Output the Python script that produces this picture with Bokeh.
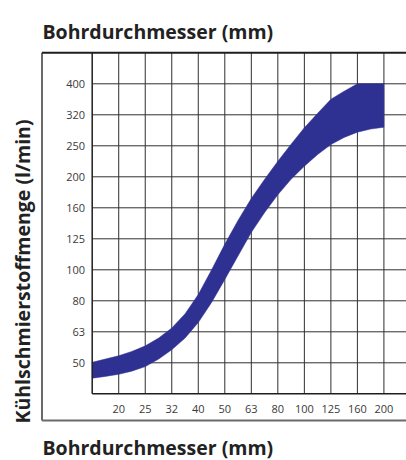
import math
from bokeh.plotting import figure
from bokeh.models import Range1d
from bokeh.embed import file_html
from bokeh.resources import INLINE
from bokeh.core.properties import value

# ---------------- data ----------------
X_TICKS = [20, 25, 32, 40, 50, 63, 80, 100, 125, 160, 200]          # Bohrdurchmesser (mm)
Y_TICKS = [50, 63, 80, 100, 125, 160, 200, 250, 320, 400]           # Kühlschmierstoffmenge (l/min)
X_TITLE = "Bohrdurchmesser (mm)"
Y_TITLE = "Kühlschmierstoffmenge (l/min)"

# band edges: drill diameter (mm) -> coolant flow range (l/min)
DIAMETER = [15.9, 17.8, 20.0, 22.4, 25.2, 28.3, 31.7, 35.6, 39.9, 44.8, 50.2, 56.4,
            63.2, 71.0, 79.6, 89.3, 100.2, 112.5, 126.2, 141.6, 158.9, 178.3, 200.0]
FLOW_MAX = [50.2, 51.4, 52.7, 54.4, 56.7, 60.1, 64.7, 72.0, 83.0, 99.8, 120.5, 144.2,
            169.4, 195.4, 223.3, 253.5, 286.4, 319.1, 354.0, 376.0, 397.2, 397.2, 397.2]
FLOW_MIN = [44.6, 45.2, 45.9, 47.0, 48.6, 51.4, 55.1, 60.1, 67.4, 78.3, 92.7, 110.7,
            131.5, 152.7, 174.2, 195.4, 215.3, 234.9, 252.9, 266.7, 277.3, 283.8, 287.7]

# ---------------- layout ----------------
W, H = 406, 460
R10 = 10 ** 0.1                      # Renard R10 step of both axes
GX0, GSTEP_X = 91.7, 26.52           # px of the grid's left edge, px per R10 step
GY0, GSTEP_Y = 362.3, 31.0           # px of the first y tick, px per R10 step

x_pos = [X_TICKS[0] * R10 ** k for k in range(len(X_TICKS))]
y_pos = [Y_TICKS[0] * R10 ** k for k in range(len(Y_TICKS))]
x_grid0 = X_TICKS[0] / R10
y_grid0 = Y_TICKS[0] / R10
y_top = Y_TICKS[0] * R10 ** len(Y_TICKS)


def xv(cx):
    return x_grid0 * R10 ** ((cx - GX0) / GSTEP_X)


def yv(cy):
    return Y_TICKS[0] * R10 ** ((GY0 - cy) / GSTEP_Y)


p = figure(width=W, height=H, output_backend="svg", toolbar_location=None,
           x_axis_type="log", y_axis_type="log",
           x_axis_location=None, y_axis_location=None,
           x_range=Range1d(xv(0), xv(W)), y_range=Range1d(yv(H), yv(0)),
           min_border=0, min_border_left=0, min_border_right=0,
           min_border_top=0, min_border_bottom=0)
p.outline_line_color = None
p.xgrid.visible = False
p.ygrid.visible = False
p.background_fill_color = "white"
p.border_fill_color = "white"

x_right = xv(W + 5)
grid_col = "#2f2f2f"

# grid lines
p.segment(x0=x_pos, x1=x_pos, y0=[y_grid0] * len(x_pos), y1=[y_top] * len(x_pos),
          line_color=grid_col, line_width=1)
p.segment(x0=[x_grid0] * len(y_pos), x1=[x_right] * len(y_pos), y0=y_pos, y1=y_pos,
          line_color=grid_col, line_width=1)

# band
p.patch(x=DIAMETER + DIAMETER[::-1], y=FLOW_MAX + FLOW_MIN[::-1],
        fill_color="#2e3192", line_color="#2e3192", line_width=0.5)

# grid border (left + bottom)
p.segment(x0=[x_grid0, x_grid0], x1=[x_grid0, x_right], y0=[y_grid0, y_grid0], y1=[y_top, y_grid0],
          line_color="#1e1e1e", line_width=1.5)

# outer box
box_left = xv(41.5)
box_bottom = yv(420)
p.segment(x0=[box_left], x1=[box_left], y0=[box_bottom], y1=[y_top], line_color="#6a6a6a", line_width=2)
p.segment(x0=[box_left], x1=[x_right], y0=[box_bottom], y1=[box_bottom], line_color="#6a6a6a", line_width=2)
p.segment(x0=[box_left], x1=[x_right], y0=[y_top], y1=[y_top], line_color="#1e1e1e", line_width=2)

tick_font = value("Open Sans")
# y tick labels
p.text(x=[xv(84.5)] * len(Y_TICKS), y=y_pos, text=[str(v) for v in Y_TICKS],
       text_align="right", text_baseline="middle", text_font=tick_font,
       text_font_size="11px", text_color="#3a3a3a")
# x tick labels
p.text(x=x_pos, y=[yv(408)] * len(X_TICKS), text=[str(v) for v in X_TICKS],
       text_align="center", text_baseline="middle", text_font=tick_font,
       text_font_size="11px", text_color="#3a3a3a")

title_font = value("Open Sans")
p.text(x=[xv(42)], y=[yv(31)], text=[X_TITLE], text_align="left", text_baseline="alphabetic",
       text_font=title_font, text_font_style="bold", text_font_size="19.5px", text_color="#222222")
p.text(x=[xv(42)], y=[yv(447)], text=[X_TITLE], text_align="left", text_baseline="alphabetic",
       text_font=title_font, text_font_style="bold", text_font_size="19.5px", text_color="#222222")
p.text(x=[xv(22)], y=[yv(271)], text=[Y_TITLE], angle=math.pi / 2, text_align="center",
       text_baseline="middle", text_font=title_font, text_font_style="bold",
       text_font_size="19.5px", text_color="#222222")

open("out.html", "w").write(file_html(p, INLINE))
